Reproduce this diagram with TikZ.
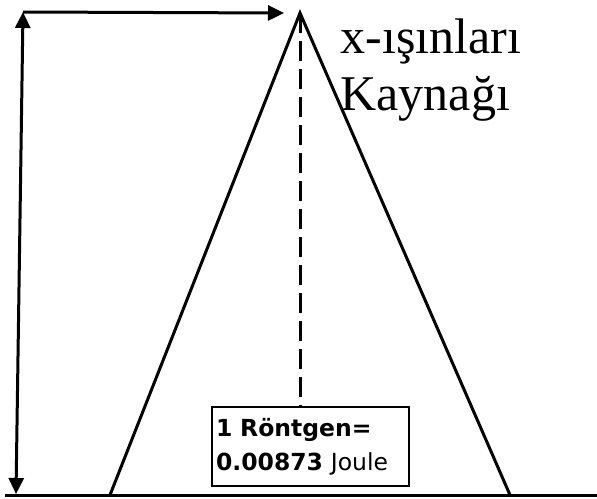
\documentclass[tikz,border=0pt]{standalone}
\usepackage{fontspec}
\setmainfont{Liberation Serif}
\newfontfamily\boxfont{DejaVu Sans}
\usetikzlibrary{arrows.meta,positioning}

\begin{document}
\begin{tikzpicture}[
    x=1pt, y=-1pt,
    line width=3pt,
    arrow/.style={-{Triangle[length=16pt,width=15pt]}},
    dblarrow/.style={{Triangle[length=16pt,width=15pt]}-{Triangle[length=16pt,width=15pt]}},
    beam/.style={dash pattern=on 20pt off 8pt},
    infobox/.style={rectangle, draw, line width=2pt, minimum width=197pt, minimum height=79pt, inner sep=0pt, text width=189pt, align=left, font=\boxfont\fontsize{23.5}{34}\selectfont},
    srclabel/.style={inner sep=0pt, align=left, font=\fontsize{50}{57}\selectfont}
]
\useasboundingbox (0,0) rectangle (597,498);

% Kaynak ve zemin
\coordinate (source) at (300,13);
\coordinate (leftfoot) at (110,495);
\coordinate (rightfoot) at (510,495);
\coordinate (groundstart) at (5,495);
\coordinate (groundend) at (597,495);

% Olcu oklari
\coordinate (topleft) at (23,12);
\coordinate (bottomleft) at (16,494);
\coordinate (topright) at (284,13);

% Yazilar
\node (info) [infobox] at (310.5,446.5) {\textbf{1 Röntgen=}\\\textbf{0.00873} Joule};
\node (sourcelabel) [srclabel, anchor=base west] at (339,110) {x-ışınları\\Kaynağı};

% Cizgiler
\draw (leftfoot) -- (source) -- (rightfoot);
\draw (groundstart) -- (groundend);
\draw [beam] (source) -- (source |- info.north);
\draw [dblarrow] (bottomleft) -- (topleft);
\draw [arrow] (topleft) -- (topright);

\end{tikzpicture}
\end{document}
